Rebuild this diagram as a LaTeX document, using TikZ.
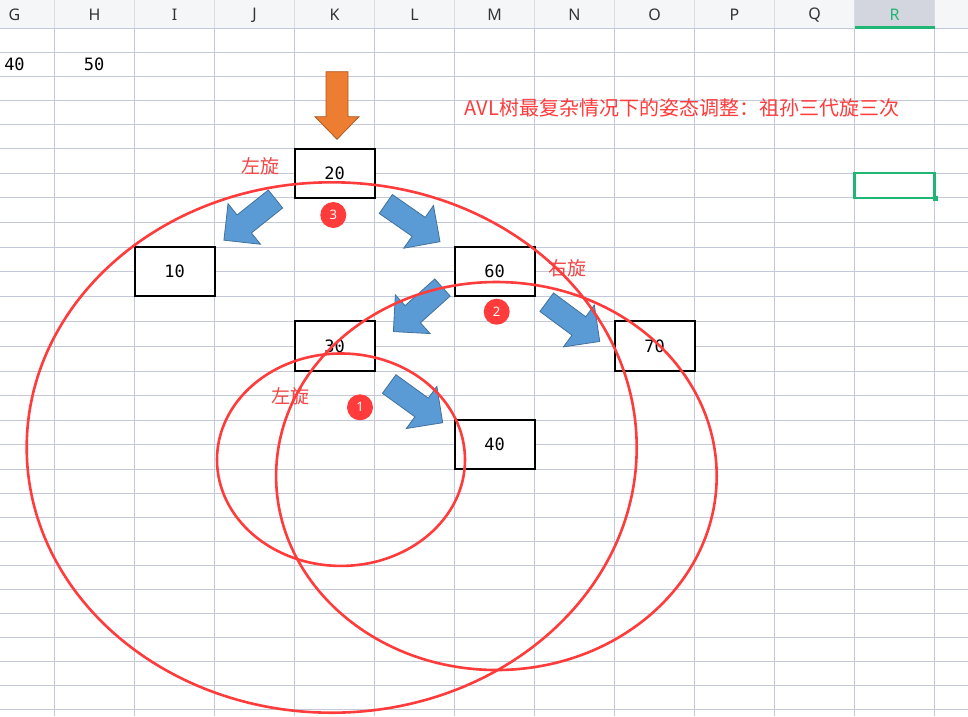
\documentclass[tikz,border=0pt]{standalone}
\usepackage{fontspec}
\newfontfamily\cjk{Noto Sans CJK SC}
\newfontfamily\monof{DejaVu Sans Mono}
\newfontfamily\hdrf{Noto Sans}
\definecolor{gridc}{HTML}{C3C9D8}
\definecolor{hdrbg}{HTML}{F5F6F8}
\definecolor{hdrsep}{HTML}{DADDE4}
\definecolor{hdrsel}{HTML}{D3D6DE}
\definecolor{selg}{HTML}{21B573}
\definecolor{redc}{HTML}{FF3B3B}
\definecolor{labred}{HTML}{F24848}
\definecolor{bluef}{HTML}{5B9BD5}
\definecolor{bluel}{HTML}{41719C}
\definecolor{orf}{HTML}{ED7D31}
\definecolor{orl}{HTML}{AE5A21}
\newcommand{\blockarr}[3]{%
  \begin{scope}[shift={(#1,#2)}, rotate=#3]
    \filldraw[fill=bluef, draw=bluel, line width=0.8pt, line join=miter]
      (0pt,-11.5pt) -- (40pt,-11.5pt) -- (40pt,-26pt) -- (66pt,0pt)
      -- (40pt,26pt) -- (40pt,11.5pt) -- (0pt,11.5pt) -- cycle;
  \end{scope}}
\begin{document}
\begin{tikzpicture}[x=1pt,y=-1pt,
  cellbox/.style={draw=black, line width=2pt, fill=white, minimum width=80pt,
    minimum height=49pt, inner sep=0pt, font=\monof\fontsize{17}{20}\selectfont},
  plain/.style={inner sep=0pt, font=\monof\fontsize{17}{20}\selectfont},
  hdr/.style={inner sep=0pt, text=black!80, font=\hdrf\fontsize{16}{18}\selectfont},
  numc/.style={circle, fill=redc, minimum size=26pt, inner sep=0pt, text=white,
    font=\hdrf\fontsize{13}{13}\selectfont},
  rotlab/.style={inner sep=0pt, text=labred, font=\cjk\fontsize{19}{19}\selectfont},
  redell/.style={draw=redc, line width=2.6pt}]
\useasboundingbox (0,0) rectangle (968,716);
\fill[white] (0,0) rectangle (968,716);
% grid
\foreach \yy in {52.3,76.5,100.5,124.5,148.5,173,197.7,222,247,271.5,296,321,346,371,395.3,420,444.3,469,493.3,517.3,541.3,565.3,589.3,613.3,637.3,661.3,685.3,709.3}
  \draw[gridc, line width=1pt] (0,\yy) -- (968,\yy);
\foreach \k in {0,...,11}
  \draw[gridc, line width=1pt] (54.5+80*\k,28) -- (54.5+80*\k,716);
% header
\fill[hdrbg] (0,0) rectangle (968,28);
\fill[hdrsel] (854.5,0) rectangle (934.5,28);
\foreach \k in {0,...,11}
  \draw[hdrsep, line width=1pt] (54.5+80*\k,0) -- (54.5+80*\k,28);
\draw[gridc, line width=1pt] (0,28) -- (968,28);
\fill[selg] (854.5,26.3) rectangle (934.5,29);
\foreach \c [count=\i from 0] in {G,H,I,J,K,L,M,N,O,P,Q}
  \node[hdr] (h\c) at (14.5+80*\i,15) {\c};
\node[hdr, text=selg] (hR) at (894.5,15) {R};
% selected cell
\draw[selg, line width=2.2pt] (854.5,173) rectangle (934.5,197.7);
\fill[selg] (932.5,195.7) rectangle (937.5,200.7);
% top-left values
\node[plain] (v40) at (14.5,64.7) {40};
\node[plain] (v50) at (94.2,64.7) {50};
% title
\node[inner sep=0pt, text=redc, font=\cjk\fontsize{20}{20}\selectfont] (title) at (682,107.5)
  {AVL树最复杂情况下的姿态调整：祖孙三代旋三次};
% boxes
\node[cellbox, minimum height=49.2pt] (n20) at (334.5,173.1) {20};
\node[cellbox] (n10) at (174.5,271.5) {10};
\node[cellbox] (n60) at (494.5,271.5) {60};
\node[cellbox, minimum height=50pt] (n30) at (334.5,346) {30};
\node[cellbox, minimum height=50pt] (n70) at (654.5,346) {70};
\node[cellbox] (n40) at (494.5,444.5) {40};
% orange arrow
\filldraw[fill=orf, draw=orl, line width=0.8pt, line join=miter]
  (326,71.7) -- (348,71.7) -- (348,116.7) -- (359,116.7) -- (337,139.3)
  -- (315,116.7) -- (326,116.7) -- cycle;
% blue arrows
\blockarr{275.5}{199}{218.6}
\blockarr{385.8}{204}{-34.8}
\blockarr{442.5}{287.5}{221.9}
\blockarr{546.7}{302.2}{-36.5}
\blockarr{389.2}{384}{-35.9}
% numbered circles
\node[numc] (c3) at (333.3,215) {3};
\node[numc] (c2) at (496.7,311.7) {2};
\node[numc] (c1) at (360,407.3) {1};
% rotation labels
\node[rotlab] (l1) at (260,166.5) {左旋};
\node[rotlab] (l2) at (567,268.3) {右旋};
\node[rotlab] (l3) at (290,396.5) {左旋};
% ellipses
\draw[redell] (331.7,447.5) ellipse [x radius=305, y radius=265.2];
\draw[redell] (496.4,476) ellipse [x radius=220.3, y radius=194];
\draw[redell] (341,459.7) ellipse [x radius=124, y radius=106.2];
\end{tikzpicture}
\end{document}
